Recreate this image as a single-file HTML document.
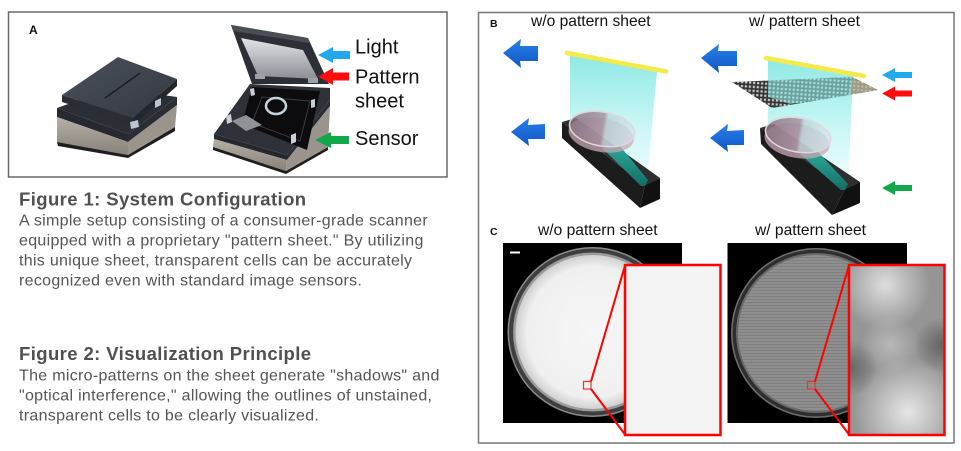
<!DOCTYPE html>
<html><head><meta charset="utf-8"><style>
html,body{margin:0;padding:0;background:#fff;}
svg{display:block;font-family:"Liberation Sans",Arial,sans-serif;}
</style></head><body>
<svg width="961" height="451" viewBox="0 0 961 451" xmlns="http://www.w3.org/2000/svg">
<defs>
  <linearGradient id="silver" x1="0" y1="0" x2="0" y2="1">
    <stop offset="0" stop-color="#b5afa6"/><stop offset="1" stop-color="#878178"/>
  </linearGradient>
  <linearGradient id="lid" x1="0" y1="0" x2="1" y2="1">
    <stop offset="0" stop-color="#4b515b"/><stop offset="1" stop-color="#333840"/>
  </linearGradient>
  <linearGradient id="lidin" x1="0" y1="0" x2="0" y2="1">
    <stop offset="0" stop-color="#e2e4e7"/><stop offset="1" stop-color="#8a8e94"/>
  </linearGradient>
  <linearGradient id="beam" x1="0" y1="0" x2="0" y2="1">
    <stop offset="0" stop-color="#8fe9e5"/><stop offset="0.55" stop-color="#c9f7f5"/><stop offset="1" stop-color="#f0fdfd"/>
  </linearGradient>
  <linearGradient id="arrowG" x1="0" y1="0" x2="0" y2="1">
    <stop offset="0" stop-color="#2a7fe8"/><stop offset="1" stop-color="#0f58c8"/>
  </linearGradient>
  <linearGradient id="dish" x1="0" y1="0" x2="1" y2="0">
    <stop offset="0" stop-color="#8a7282" stop-opacity="0.85"/><stop offset="0.5" stop-color="#a48f9e" stop-opacity="0.8"/><stop offset="0.56" stop-color="#b9d3d8" stop-opacity="0.75"/><stop offset="1" stop-color="#d3e8ea" stop-opacity="0.7"/>
  </linearGradient>
  <linearGradient id="teal" x1="0" y1="0" x2="0" y2="1">
    <stop offset="0" stop-color="#2aa898"/><stop offset="1" stop-color="#146f66"/>
  </linearGradient>
  <radialGradient id="wdish" cx="0.5" cy="0.5" r="0.5">
    <stop offset="0" stop-color="#f6f6f6"/><stop offset="0.85" stop-color="#f0f0f0"/><stop offset="1" stop-color="#d0d0d0"/>
  </radialGradient>
  <pattern id="grid" width="4" height="4" patternUnits="userSpaceOnUse" patternTransform="rotate(4)">
    <rect width="4" height="4" fill="#353535"/><rect x="1" y="1" width="2.2" height="2.2" fill="#c8c8c8"/>
  </pattern>
  <pattern id="dots" width="3" height="3" patternUnits="userSpaceOnUse">
    <rect width="3" height="3" fill="#8e8e8e"/><rect x="0" y="2" width="3" height="0.8" fill="#7c7c7c"/>
  </pattern>
  <radialGradient id="b1" gradientUnits="userSpaceOnUse" cx="885" cy="285" r="45">
    <stop offset="0" stop-color="#dedede" stop-opacity="1"/><stop offset="1" stop-color="#dedede" stop-opacity="0"/>
  </radialGradient>
  <radialGradient id="b2" gradientUnits="userSpaceOnUse" cx="908" cy="412" r="55">
    <stop offset="0" stop-color="#e6e6e6" stop-opacity="1"/><stop offset="1" stop-color="#e6e6e6" stop-opacity="0"/>
  </radialGradient>
  <radialGradient id="b3" gradientUnits="userSpaceOnUse" cx="890" cy="345" r="30">
    <stop offset="0" stop-color="#b8b8b8" stop-opacity="1"/><stop offset="1" stop-color="#b8b8b8" stop-opacity="0"/>
  </radialGradient>
  <radialGradient id="d1" gradientUnits="userSpaceOnUse" cx="942" cy="345" r="28">
    <stop offset="0" stop-color="#626262" stop-opacity="1"/><stop offset="1" stop-color="#626262" stop-opacity="0"/>
  </radialGradient>
  <radialGradient id="d2" gradientUnits="userSpaceOnUse" cx="850" cy="368" r="28">
    <stop offset="0" stop-color="#666" stop-opacity="1"/><stop offset="1" stop-color="#666" stop-opacity="0"/>
  </radialGradient>
</defs>

<!-- Panel A -->
<rect x="8.5" y="12" width="438.5" height="165" fill="#fff" stroke="#6a6a6a" stroke-width="1.5"/>
<text x="29" y="34" font-size="12" font-weight="bold" fill="#111">A</text>

<!-- left scanner -->
<polygon points="57,108 113,88 177,97 128,134" fill="#2b2e34"/>
<polygon points="57,108 128,134 128,142 57,117" fill="#262a30"/>
<polygon points="57,117 128,142 128,155 57,142" fill="url(#silver)"/>
<polygon points="57,142 128,155 128,158 58,146" fill="#1e1e1e"/>
<polygon points="128,134 177,97 177,105 128,142" fill="#2a2d33"/>
<polygon points="128,142 177,105 175,127 128,155" fill="#9a948c"/>
<polygon points="128,155 175,127 175,131 128,158" fill="#1e1e1e"/>
<polygon points="62,95 133,118 133,125 62,102" fill="#2a2d33"/>
<polygon points="133,118 177,79 177,86 133,125" fill="#23262b"/>
<polygon points="62,95 118,57 177,79 133,118" fill="url(#lid)"/>
<line x1="105" y1="98" x2="140" y2="73" stroke="#1b1d21" stroke-width="1.5"/>
<polygon points="130,122 138,120 139,127 131,129" fill="#b9c6cf"/>
<polygon points="155,101 161,98 161,105 155,108" fill="#b9c6cf"/>

<!-- right scanner -->
<polygon points="214,134 287,155 287,160 214,139" fill="#25282d"/>
<polygon points="214,139 287,160 286,171 213,147" fill="url(#silver)"/>
<polygon points="213,147 286,171 286,174 213,150" fill="#1e1e1e"/>
<polygon points="287,155 330,100 330,106 287,160" fill="#2a2d33"/>
<polygon points="287,160 330,106 328,147 286,171" fill="#9a948c"/>
<polygon points="286,171 328,147 328,150 286,174" fill="#1e1e1e"/>
<polygon points="214,134 250,84 330,88 330,100 287,155" fill="#2e3137"/>
<polygon points="252,87 320,91 307,150 242,124" fill="#0c0c0e"/>
<polygon points="262,97 310,101 300,141 252,123" fill="none" stroke="#3a3a3a" stroke-width="1"/>
<polygon points="232,121 246,115 262,125 246,131" fill="#8f9297"/>
<ellipse cx="276" cy="106" rx="10" ry="8" fill="none" stroke="#c5d3dc" stroke-width="2.5"/>
<polygon points="231,25 308,38 329,84 252,84" fill="#2c2f35"/>
<polygon points="231,25 308,38 310,43 233,31" fill="#4a4e55"/>
<polygon points="241,38 303,50 318,79 258,76" fill="url(#lidin)"/>
<rect x="255" y="74" width="10" height="5" fill="#9aa3aa"/>
<rect x="308" y="78" width="10" height="5" fill="#9aa3aa"/>
<polygon points="226,116 231,114 232,122 227,124" fill="#c5d0d8"/>
<polygon points="250,89 254,88 255,95 251,96" fill="#c5d0d8"/>
<polygon points="311,100 315,99 315,107 311,108" fill="#c5d0d8"/>
<polygon points="291,135 296,133 296,142 291,144" fill="#c5d0d8"/>

<!-- panel A arrows & labels -->
<polygon points="318,55 333,47 333,51 350,51 350,59 333,59 333,63" fill="#21a9ee"/>
<polygon points="318,76.5 333,68 333,72.5 349,72.5 349,80.5 333,80.5 333,85" fill="#ff0d0d"/>
<polygon points="315,140 331,132 331,136 349,136 349,144 331,144 331,148" fill="#12a84a"/>
<text x="355" y="53.5" font-size="20" fill="#111">Light</text>
<text x="355" y="83.5" font-size="20" fill="#111">Pattern</text>
<text x="355" y="107.5" font-size="20" fill="#111">sheet</text>
<text x="355" y="145" font-size="20" fill="#111">Sensor</text>

<!-- Figure text -->
<g fill="#505050">
<text x="19" y="205.7" font-size="18.5" font-weight="bold" style="letter-spacing:0.4px">Figure 1: System Configuration</text>
<text x="19" y="360" font-size="18.5" font-weight="bold" style="letter-spacing:0.4px">Figure 2: Visualization Principle</text>
</g>
<g fill="#555" font-size="16" style="letter-spacing:0.3px">
<text x="19" y="225.7">A simple setup consisting of a consumer-grade scanner</text>
<text x="19" y="245.7">equipped with a proprietary "pattern sheet." By utilizing</text>
<text x="19" y="265.7">this unique sheet, transparent cells can be accurately</text>
<text x="19" y="285.7">recognized even with standard image sensors.</text>
<text x="19" y="380.5">The micro-patterns on the sheet generate "shadows" and</text>
<text x="19" y="400.5">"optical interference," allowing the outlines of unstained,</text>
<text x="19" y="420.5">transparent cells to be clearly visualized.</text>
</g>

<!-- Panel B/C box -->
<rect x="478.5" y="12.5" width="475.5" height="430.5" fill="#fff" stroke="#777" stroke-width="1.5"/>
<text x="490" y="27" font-size="10.5" font-weight="bold" fill="#111">B</text>
<text x="531" y="26" font-size="15.6" fill="#111">w/o pattern sheet</text>
<text x="749" y="26" font-size="15.6" fill="#111">w/ pattern sheet</text>

<!-- B left -->
<polygon points="570,55 657,72 647,182 600,150 570,125" fill="url(#beam)"/>
<line x1="567" y1="53" x2="666" y2="71.5" stroke="#f4ea4a" stroke-width="4.5" stroke-linecap="round"/>
<polygon points="562,122 645,185 640,208 562,138" fill="#1c1c1c"/>
<polygon points="562,122 576,118 660,178 645,185" fill="#2e2e2e"/>
<polygon points="645,185 660,178 660,199 640,208" fill="#111"/>
<polygon points="602,148 620,146 648,180 645,186 641,186" fill="url(#teal)"/>
<g transform="rotate(10 602 130)">
<ellipse cx="602" cy="135" rx="33" ry="17" fill="#caa7b6" opacity="0.75"/>
<ellipse cx="602" cy="129" rx="33" ry="17" fill="url(#dish)" stroke="#e2d6df" stroke-width="1.5"/>
</g>
<path d="M503,53 L521,39 L520,46 L538,46 L538,61 L520,61 L521,68 Z" fill="url(#arrowG)"/>
<path d="M511,132 L529,118 L528,125 L545,124 L545,139 L528,139 L529,146 Z" fill="url(#arrowG)"/>

<!-- B right -->
<polygon points="768,59 853,76 848,184 800,152 768,125" fill="url(#beam)"/>
<polygon points="732,82 852,77 878,90 772,108" fill="url(#grid)"/>
<polygon points="853,78 878,90 848,95" fill="#b9b59c" opacity="0.8"/>
<polygon points="768,80 853,77 850,96 790,104 768,97" fill="#8fe9e5" opacity="0.6"/>
<line x1="766" y1="58" x2="864" y2="76" stroke="#f4ea4a" stroke-width="4.5" stroke-linecap="round"/>
<polygon points="760,128 774,124 860,182 845,189 " fill="#2e2e2e"/>
<polygon points="760,128 845,189 832,215 761,144" fill="#1c1c1c"/>
<polygon points="845,189 860,182 860,203 832,215" fill="#111"/>
<polygon points="800,154 818,152 848,184 845,190 841,190" fill="url(#teal)"/>
<g transform="rotate(10 798 136)">
<ellipse cx="798" cy="141" rx="33" ry="17" fill="#caa7b6" opacity="0.75"/>
<ellipse cx="798" cy="135" rx="33" ry="17" fill="url(#dish)" stroke="#e2d6df" stroke-width="1.5"/>
</g>
<path d="M701,58 L719,44 L718,51 L737,51 L737,66 L718,66 L719,73 Z" fill="url(#arrowG)"/>
<path d="M710,138 L728,124 L727,131 L744,130 L744,145 L727,145 L728,152 Z" fill="url(#arrowG)"/>
<polygon points="882,75 895,68 895,72 912,72 912,78 895,78 895,82" fill="#21a9ee"/>
<polygon points="882,93.5 895,86.5 895,90.5 912,90.5 912,96.5 895,96.5 895,100.5" fill="#ff0d0d"/>
<polygon points="882,188 895,181 895,185 912,185 912,191 895,191 895,195" fill="#12a84a"/>

<!-- Panel C -->
<text x="490" y="235" font-size="10.5" font-weight="bold" fill="#111">C</text>
<text x="538" y="235" font-size="15.6" fill="#111">w/o pattern sheet</text>
<text x="755" y="235" font-size="15.6" fill="#111">w/ pattern sheet</text>

<rect x="503" y="243" width="179" height="180" fill="#000"/>
<circle cx="592.5" cy="332" r="85" fill="#8a8a8a"/>
<circle cx="592.5" cy="332" r="83.5" fill="#3e3e3e"/>
<circle cx="592.5" cy="332" r="79.5" fill="#9a9a9a"/>
<circle cx="592.5" cy="332" r="77" fill="url(#wdish)"/>
<line x1="510" y1="252.5" x2="520" y2="252.5" stroke="#fff" stroke-width="2"/>

<rect x="727.5" y="243" width="179.5" height="180" fill="#000"/>
<circle cx="816" cy="333" r="85" fill="#707070"/>
<circle cx="816" cy="333" r="83.5" fill="#2e2e2e"/>
<circle cx="816" cy="333" r="80" fill="#6a6a6a"/>
<circle cx="816" cy="333" r="78" fill="url(#dots)"/>

<!-- insets -->
<rect x="625" y="265" width="95.5" height="170" fill="#f3f3f3" stroke="#f00" stroke-width="2.5"/>
<rect x="583.5" y="381.5" width="7.5" height="7.5" fill="none" stroke="#e33" stroke-width="1.2"/>
<line x1="591" y1="381.5" x2="625" y2="265.5" stroke="#f00" stroke-width="2"/>
<line x1="591" y1="389" x2="625" y2="434.5" stroke="#f00" stroke-width="2"/>

<rect x="849" y="265" width="95.5" height="170" fill="#959595"/>
<rect x="849" y="265" width="95.5" height="170" fill="url(#b3)"/>
<rect x="849" y="265" width="95.5" height="170" fill="url(#b1)"/>
<rect x="849" y="265" width="95.5" height="170" fill="url(#b2)"/>
<rect x="849" y="265" width="95.5" height="170" fill="url(#d1)"/>
<rect x="849" y="265" width="95.5" height="170" fill="url(#d2)"/>
<rect x="849" y="265" width="95.5" height="170" fill="none" stroke="#f00" stroke-width="2.5"/>
<rect x="807.5" y="381.5" width="7.5" height="7.5" fill="none" stroke="#e33" stroke-width="1.2"/>
<line x1="815" y1="381.5" x2="849" y2="265.5" stroke="#f00" stroke-width="2"/>
<line x1="815" y1="389" x2="849" y2="434.5" stroke="#f00" stroke-width="2"/>
</svg>
</body></html>
